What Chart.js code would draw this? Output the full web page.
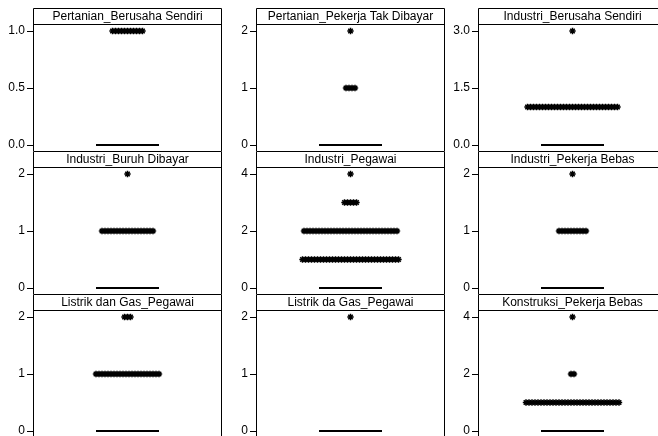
<!DOCTYPE html>
<html>
<head>
<meta charset="utf-8">
<script src="https://cdn.jsdelivr.net/npm/chart.js@4.4.1/dist/chart.umd.min.js"></script>
<style>
  body { margin: 0; background: #fff; }
  #wrap { position: relative; width: 658px; height: 436px; overflow: hidden; background: #fff; }
  #wrap canvas { position: absolute; }
</style>
</head>
<body>
<div id="wrap"></div>
<script>
const titles = [
  "Pertanian_Berusaha Sendiri", "Pertanian_Pekerja Tak Dibayar", "Industri_Berusaha Sendiri",
  "Industri_Buruh Dibayar", "Industri_Pegawai", "Industri_Pekerja Bebas",
  "Listrik dan Gas_Pegawai", "Listrik da Gas_Pegawai", "Konstruksi_Pekerja Bebas"
];
// top tick of each panel's y axis (ticks are 0, top/2, top)
const tickTops = [1, 2, 3, 2, 4, 2, 2, 2, 4];
const tickDecimals = [1, 0, 1, 0, 0, 0, 0, 0, 0];

// box parts (all collapsed at zero)
const q1 = [0, 0, 0, 0, 0, 0, 0, 0, 0];
const medians = [0, 0, 0, 0, 0, 0, 0, 0, 0];
const q3 = [0, 0, 0, 0, 0, 0, 0, 0, 0];

// outliers: value and how many observations share it
const outlierValues = [[1], [1, 2], [1, 3], [1, 2], [1, 2, 3, 4], [1, 2], [1, 2], [2], [1, 2, 4]];
const outlierCounts = [[11], [4, 1], [31, 1], [18, 1], [33, 32, 5, 1], [10, 1], [22, 3], [1], [32, 2, 1]];

const colAxis = [33, 256, 478];
const rowTop = [0, 143, 286];
const AXIS_W = 33, PLOT_W = 189, STRIP_TOP = 8, STRIP_H = 16;
const STEP = 3, BOX_HALF = 31.5;
const FONT = "'Liberation Sans', Arial, sans-serif";

function spread(n) {
  const out = [];
  for (let i = 0; i < n; i++) out.push((i - (n - 1) / 2) * STEP);
  return out;
}

const panelFrame = {
  id: "panelFrame",
  afterDatasetsDraw(chart) {
    const { ctx, scales } = chart;
    const idx = chart.options.panelIndex;
    const x = scales.x, y = scales.y;
    // box: q1..q3 rectangle and median line
    ctx.save();
    ctx.strokeStyle = "#000";
    const xl = x.getPixelForValue(-BOX_HALF), xr = x.getPixelForValue(BOX_HALF);
    ctx.lineWidth = 1;
    ctx.strokeRect(xl, y.getPixelForValue(q3[idx]), xr - xl, y.getPixelForValue(q1[idx]) - y.getPixelForValue(q3[idx]));
    ctx.lineWidth = 2;
    ctx.beginPath();
    ctx.moveTo(xl, y.getPixelForValue(medians[idx]));
    ctx.lineTo(xr, y.getPixelForValue(medians[idx]));
    ctx.stroke();
    ctx.restore();
  },
  afterDraw(chart) {
    const { ctx, chartArea } = chart;
    const idx = chart.options.panelIndex;
    const l = chartArea.left + 0.5, r = chartArea.right - 0.5;
    const top = STRIP_TOP + 0.5, bot = chartArea.top + 0.5;
    ctx.save();
    ctx.strokeStyle = "#000";
    ctx.lineWidth = 1;
    ctx.beginPath();
    ctx.moveTo(l, chart.height);
    ctx.lineTo(l, top);
    ctx.lineTo(r, top);
    ctx.lineTo(r, chart.height);
    ctx.moveTo(l, bot);
    ctx.lineTo(r, bot);
    ctx.stroke();
    ctx.fillStyle = "#000";
    ctx.font = "12px " + FONT;
    ctx.textAlign = "center";
    ctx.textBaseline = "middle";
    ctx.fillText(titles[idx], (l + r) / 2, (top + bot) / 2 + 0.5);
    ctx.restore();
  }
};

const wrap = document.getElementById("wrap");

titles.forEach((title, i) => {
  const row = Math.floor(i / 3), col = i % 3;
  const canvas = document.createElement("canvas");
  canvas.width = AXIS_W + PLOT_W + 1;
  canvas.height = 151;
  canvas.style.left = (colAxis[col] - AXIS_W) + "px";
  canvas.style.top = rowTop[row] + "px";
  wrap.appendChild(canvas);

  const T = tickTops[i];
  const points = [];
  outlierValues[i].forEach((v, k) => {
    spread(outlierCounts[i][k]).forEach((dx) => points.push({ x: dx, y: v }));
  });

  new Chart(canvas, {
    type: "scatter",
    data: {
      datasets: [{
        data: points,
        pointStyle: "star",
        pointRadius: 3.2,
        borderColor: "#000",
        backgroundColor: "#000",
        borderWidth: 1.5,
        pointHoverRadius: 3.2
      }]
    },
    options: {
      panelIndex: i,
      responsive: false,
      animation: false,
      devicePixelRatio: 1,
      layout: { autoPadding: false, padding: { top: STRIP_TOP + STRIP_H, left: 0, right: 1, bottom: 0 } },
      plugins: { legend: { display: false }, tooltip: { enabled: false } },
      scales: {
        x: { type: "linear", display: false, min: -PLOT_W / 2, max: PLOT_W / 2 },
        y: {
          type: "linear",
          min: -T * 6 / 114,
          max: T * 121 / 114,
          afterBuildTicks(scale) {
            scale.ticks = [0, T / 2, T].map((v) => ({ value: v }));
          },
          afterFit(scale) {
            scale.width = AXIS_W;
            scale.paddingTop = 0;
            scale.paddingBottom = 0;
          },
          border: { display: true, color: "#000", width: 1 },
          grid: { drawOnChartArea: false, drawTicks: true, tickLength: 6, color: "#000" },
          ticks: {
            color: "#000",
            padding: 2,
            font: { family: FONT, size: 12 },
            callback: (v) => Number(v).toFixed(tickDecimals[i])
          }
        }
      }
    },
    plugins: [panelFrame]
  });
});
</script>
</body>
</html>
